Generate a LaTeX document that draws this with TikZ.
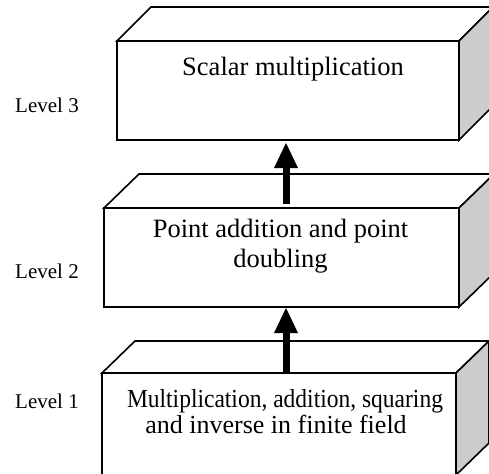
\documentclass[tikz,border=0pt]{standalone}
\usepackage{graphicx}
\usepackage{fontspec}
\setmainfont{Liberation Serif}
\usetikzlibrary{arrows.meta,calc}
\definecolor{sideface}{RGB}{204,204,204}
\begin{document}
\begin{tikzpicture}[x=1pt,y=-1pt,
  face/.style={draw=black, line width=1.6pt, line join=miter, fill=white},
  front/.style={face, rectangle, inner sep=0pt, outer sep=0pt, anchor=north west},
  side/.style={draw=black, line width=1.6pt, line join=miter, fill=sideface},
  maintext/.style={font=\fontsize{26.5}{30}\selectfont, anchor=base, inner sep=0pt},
  lowtext/.style={font=\fontsize{26}{29}\selectfont, anchor=base, inner sep=0pt},
  leveltext/.style={font=\fontsize{21}{24}\selectfont, anchor=base west, inner sep=0pt},
  lift/.style={line width=7pt, -{Triangle[width=24pt,length=25pt,line width=0pt]}}
]
\useasboundingbox (0,0) rectangle (489,473);
\clip (0,0) rectangle (489,473);

% Level 3 block
\node[front, minimum width=342pt, minimum height=99pt] (b3) at (117,41) {};
\draw[face] (b3.north west) -- ++(34,-34) -- ++(342,0) -- (b3.north east) -- cycle;
\draw[side] (b3.north east) -- ++(34,-34) -- ++(0,99) -- (b3.south east) -- cycle;

% Level 2 block
\node[front, minimum width=355pt, minimum height=99pt] (b2) at (104,208) {};
\draw[face] (b2.north west) -- ++(35,-34) -- ++(355,0) -- (b2.north east) -- cycle;
\draw[side] (b2.north east) -- ++(35,-34) -- ++(0,99) -- (b2.south east) -- cycle;

% Level 1 block
\node[front, minimum width=354pt, minimum height=102pt] (b1) at (102,373) {};
\draw[face] (b1.north west) -- ++(33,-32) -- ++(354,0) -- (b1.north east) -- cycle;
\draw[side] (b1.north east) -- ++(33,-32) -- ++(0,102) -- (b1.south east) -- cycle;

% Block captions
\node[maintext] (t3) at (293,76) {Scalar multiplication};
\node[maintext] (t2a) at (280.5,237) {Point addition and point};
\node[maintext] (t2b) at (280.5,267) {doubling};
\node[lowtext] (t1a) at (285,407) {\scalebox{0.904}[1]{Multiplication, addition, squaring}};
\node[lowtext] (t1b) at (276,433) {and inverse in finite field};

% Level labels
\node[leveltext] (l3) at (15,113) {Level 3};
\node[leveltext] (l2) at (15,278) {Level 2};
\node[leveltext] (l1) at (15,408) {Level 1};

% Arrows between levels
\coordinate (ax) at (286,0);
\draw[lift] ($(ax |- b2.north)+(0,-4)$) -- ($(ax |- b3.south)+(0,3)$);
\draw[lift] ($(ax |- b1.north)+(0,0)$) -- ($(ax |- b2.south)+(0,1)$);
\end{tikzpicture}
\end{document}
